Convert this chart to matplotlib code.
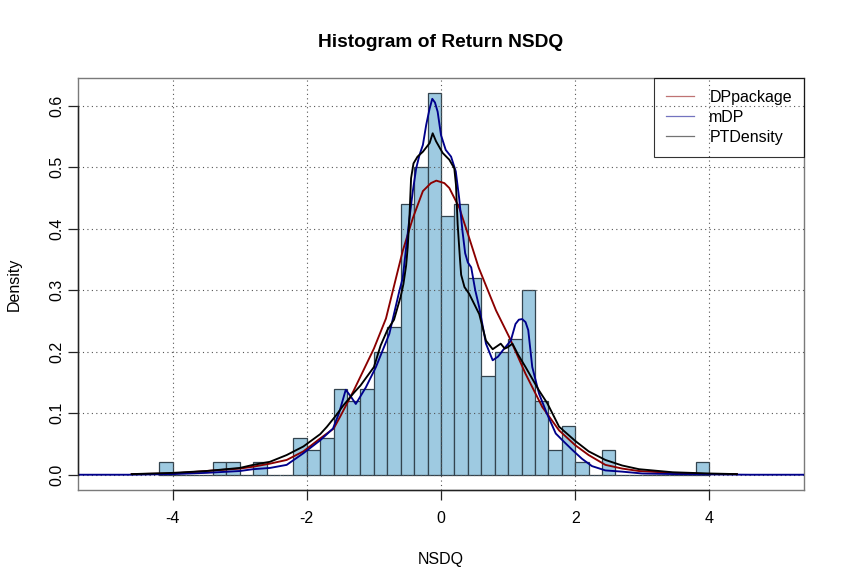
"""Histogram of NSDQ returns with three density estimates (R base-graphics look)."""

import matplotlib

matplotlib.use("Agg")
import matplotlib.pyplot as plt
import matplotlib.transforms as mtransforms
import numpy as np

plt.rcParams["font.family"] = ["Liberation Sans", "DejaVu Sans"]

# histogram: left bin edges (width 0.2) and density heights
bin_left = np.round(np.arange(-4.2, 4.0, 0.2), 1)
bin_density = [
    0.02, 0.0, 0.0, 0.0, 0.02, 0.02, 0.0, 0.02, 0.0, 0.0,
    0.06, 0.04, 0.06, 0.14, 0.12, 0.14, 0.20, 0.24, 0.44, 0.50,
    0.62, 0.42, 0.44, 0.32, 0.16, 0.20, 0.22, 0.30, 0.12, 0.04,
    0.08, 0.02, 0.0, 0.04, 0.0, 0.0, 0.0, 0.0, 0.0, 0.0,
    0.02,
]
bin_width = 0.2

# DPpackage density
dp_x = [-4.61, -4.0, -3.5, -3.0, -2.8, -2.55, -2.3, -2.05, -1.8, -1.6, -1.5,
        -1.3, -1.0, -0.82, -0.72, -0.57, -0.42, -0.27, -0.15, -0.07, 0.05,
        0.124, 0.272, 0.42, 0.56, 0.82, 1.02, 1.26, 1.51, 1.76, 2.0, 2.2,
        2.45, 2.7, 2.95, 3.45, 4.0, 4.41]
dp_y = [0.001, 0.002, 0.006, 0.010, 0.013, 0.018, 0.024, 0.038, 0.059, 0.075,
        0.095, 0.137, 0.205, 0.254, 0.298, 0.364, 0.417, 0.461, 0.474, 0.478,
        0.474, 0.466, 0.434, 0.385, 0.337, 0.267, 0.223, 0.164, 0.110, 0.072,
        0.048, 0.032, 0.016, 0.010, 0.006, 0.003, 0.001, 0.001]

# mDP density
mdp_x = [-5.41, -4.6, -4.0, -3.5, -3.0, -2.8, -2.55, -2.3, -2.05, -1.8, -1.61,
         -1.52, -1.42, -1.35, -1.27, -1.12, -0.97, -0.77, -0.62, -0.57, -0.52,
         -0.47, -0.42, -0.37, -0.32, -0.27, -0.22, -0.17, -0.13, -0.09, -0.05,
         0.0, 0.07, 0.15, 0.22, 0.27, 0.32, 0.36, 0.40, 0.45, 0.51, 0.57, 0.67,
         0.77, 0.85, 0.92, 1.04, 1.11, 1.16, 1.21, 1.26, 1.30, 1.36, 1.46, 1.58,
         1.71, 1.81, 1.96, 2.1, 2.25, 2.45, 2.7, 3.0, 3.5, 4.0, 4.6, 5.41]
mdp_y = [0.0, 0.0, 0.001, 0.003, 0.006, 0.009, 0.011, 0.016, 0.035, 0.056,
         0.075, 0.100, 0.138, 0.128, 0.115, 0.142, 0.175, 0.229, 0.299, 0.320,
         0.369, 0.417, 0.461, 0.498, 0.520, 0.536, 0.569, 0.595, 0.611, 0.605,
         0.590, 0.552, 0.528, 0.517, 0.493, 0.450, 0.396, 0.360, 0.345, 0.337,
         0.300, 0.272, 0.213, 0.186, 0.192, 0.202, 0.218, 0.245, 0.252, 0.253,
         0.248, 0.235, 0.175, 0.132, 0.099, 0.067, 0.056, 0.040, 0.026, 0.014,
         0.007, 0.005, 0.002, 0.001, 0.0005, 0.0, 0.0]

# PTDensity
pt_x = [-4.61, -4.0, -3.5, -3.0, -2.8, -2.55, -2.3, -2.05, -1.8, -1.7, -1.56,
        -1.46, -1.3, -1.2, -1.0, -0.9, -0.8, -0.7, -0.6, -0.56, -0.52, -0.496,
        -0.47, -0.446, -0.41, -0.35, -0.27, -0.17, -0.124, -0.074, 0.025,
        0.124, 0.198, 0.223, 0.248, 0.283, 0.30, 0.35, 0.42, 0.47, 0.57, 0.67,
        0.77, 0.85, 0.89, 0.95, 0.99, 1.065, 1.15, 1.26, 1.46, 1.585, 1.76,
        2.0, 2.2, 2.45, 2.7, 2.95, 3.45, 4.0, 4.41]
pt_y = [0.001, 0.003, 0.006, 0.011, 0.016, 0.021, 0.032, 0.046, 0.066, 0.078,
        0.097, 0.112, 0.133, 0.145, 0.175, 0.210, 0.235, 0.252, 0.290, 0.310,
        0.340, 0.370, 0.420, 0.482, 0.506, 0.517, 0.525, 0.539, 0.555, 0.542,
        0.523, 0.512, 0.498, 0.471, 0.407, 0.350, 0.325, 0.305, 0.294, 0.283,
        0.261, 0.218, 0.204, 0.210, 0.213, 0.205, 0.207, 0.213, 0.195, 0.175,
        0.137, 0.116, 0.078, 0.055, 0.038, 0.024, 0.015, 0.009, 0.004, 0.002,
        0.001]

series_labels = ["DPpackage", "mDP", "PTDensity"]
series_colors = ["#8B0000", "#00008B", "black"]
x_ticks = [-4, -2, 0, 2, 4]
y_ticks = [0.0, 0.1, 0.2, 0.3, 0.4, 0.5, 0.6]


def main() -> None:
    fig = plt.figure(figsize=(8.45, 5.88), dpi=100)
    ax = fig.add_axes([0.0923, 0.1667, 0.8592, 0.7006])

    ax.bar(bin_left, bin_density, width=bin_width, align="edge",
           color="#9ECAE1", edgecolor="#33444F", linewidth=0.9, zorder=1)

    ax.set_xlim(-5.41, 5.41)
    ax.set_ylim(-0.0248, 0.6448)

    for xv in x_ticks:
        ax.axvline(xv, color="#555555", linestyle=(0, (1, 3)), linewidth=0.8, zorder=2)
    for yv in y_ticks:
        ax.axhline(yv, color="#555555", linestyle=(0, (1, 3)), linewidth=0.8, zorder=2)

    ax.plot(dp_x, dp_y, color=series_colors[0], linewidth=1.35, zorder=3)
    ax.plot(mdp_x, mdp_y, color=series_colors[1], linewidth=1.35, zorder=3)
    ax.plot(pt_x, pt_y, color=series_colors[2], linewidth=1.35, zorder=4)

    # R-style box and axes
    for side in ("left", "right", "top", "bottom"):
        ax.spines[side].set_color("#7a7a7a")
        ax.spines[side].set_linewidth(1.0)
    ax.set_xticks(x_ticks)
    ax.set_xticklabels([str(t) for t in x_ticks])
    ax.set_yticks(y_ticks)
    ax.set_yticklabels([f"{t:.1f}" for t in y_ticks], rotation=90, va="center")
    ax.tick_params(axis="both", direction="out", length=7, width=0.9,
                   color="#222222", labelsize=11.5)
    ax.tick_params(axis="x", pad=8)
    ax.tick_params(axis="y", pad=3)

    # axis lines spanning the tick range, as base R draws them
    trans_x = mtransforms.blended_transform_factory(ax.transData, ax.transAxes)
    ax.plot([x_ticks[0], x_ticks[-1]], [0, 0], transform=trans_x,
            color="#222222", linewidth=1.0, clip_on=False, zorder=5)
    trans_y = mtransforms.blended_transform_factory(ax.transAxes, ax.transData)
    ax.plot([0, 0], [y_ticks[0], y_ticks[-1]], transform=trans_y,
            color="#222222", linewidth=1.0, clip_on=False, zorder=5)

    ax.set_title("Histogram of Return NSDQ", fontsize=13.8, fontweight="bold", pad=22)
    ax.set_xlabel("NSDQ", fontsize=11.5, labelpad=19)
    ax.set_ylabel("Density", fontsize=11.5, labelpad=20)

    handles = [
        plt.Line2D([], [], color=c, linewidth=0.9, alpha=0.55) for c in series_colors
    ]
    leg = ax.legend(handles, series_labels, loc="upper right", fontsize=11.5,
                    frameon=True, fancybox=False, borderaxespad=0,
                    handlelength=1.75, handletextpad=0.95, labelspacing=0.3,
                    borderpad=0.75)
    leg.get_frame().set_edgecolor("black")
    leg.get_frame().set_facecolor("none")
    leg.get_frame().set_linewidth(0.8)

    fig.savefig("out.png", dpi=100)


if __name__ == "__main__":
    main()
